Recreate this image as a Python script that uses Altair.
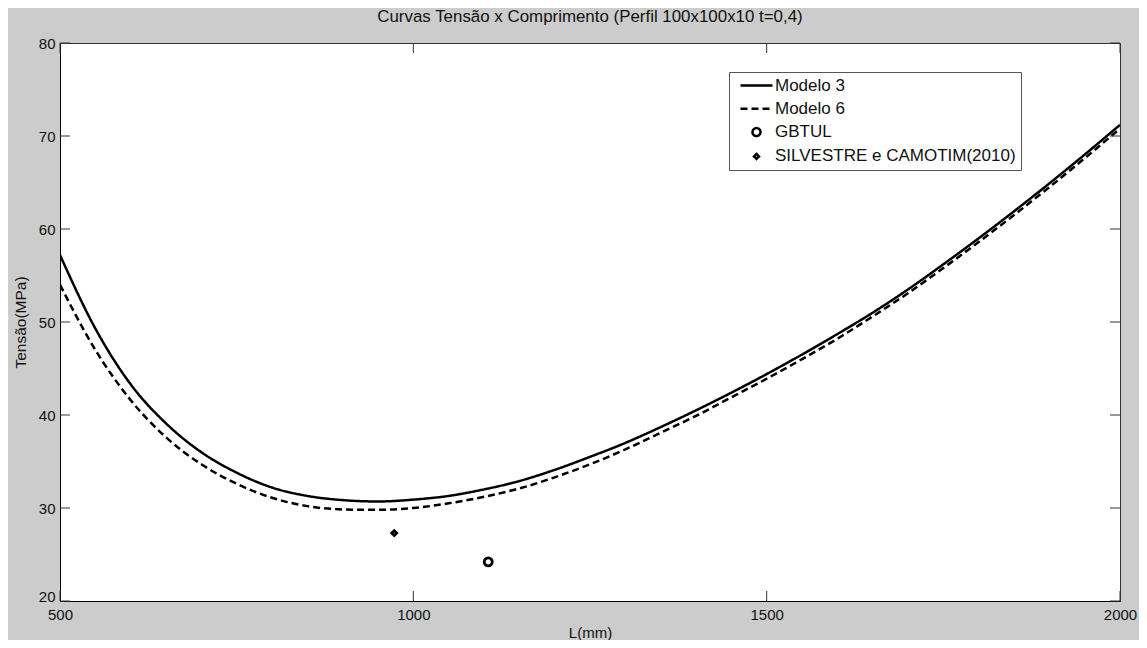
import altair as alt
import pandas as pd

# ---------------- data ----------------
L_MM = [500, 550, 600, 650, 700, 750, 800, 850, 900, 950, 1000, 1050, 1100, 1150,
        1200, 1250, 1300, 1350, 1400, 1450, 1500, 1550, 1600, 1650, 1700, 1750,
        1800, 1850, 1900, 1950, 2000]
MODELO_3 = [57.2, 49.3, 43.3, 39.1, 36.0, 33.8, 32.2, 31.3, 30.85, 30.7, 30.9, 31.3,
            32.0, 32.9, 34.1, 35.5, 37.0, 38.7, 40.5, 42.4, 44.4, 46.5, 48.7, 51.0,
            53.5, 56.2, 59.0, 61.9, 64.9, 68.0, 71.2]
MODELO_6 = [54.0, 47.0, 41.6, 37.6, 34.7, 32.6, 31.1, 30.2, 29.85, 29.8, 30.0, 30.5,
            31.2, 32.1, 33.3, 34.7, 36.3, 38.1, 39.9, 41.9, 43.9, 46.0, 48.2, 50.6,
            53.1, 55.8, 58.6, 61.5, 64.5, 67.6, 70.8]
GBTUL_L = [1106]
GBTUL_S = [24.2]
SILV_L = [973]
SILV_S = [27.3]

SERIES = ["Modelo 3", "Modelo 6", "GBTUL", "SILVESTRE e CAMOTIM(2010)"]
X_TICKS = [500, 1000, 1500, 2000]
Y_TICKS = [20, 30, 40, 50, 60, 70, 80]

TITLE = "Curvas Tensão x Comprimento (Perfil 100x100x10 t=0,4)"
X_TITLE = "L(mm)"
Y_TITLE = "Tensão(MPa)"

# ---------------- tables ----------------
lines_df = pd.concat([
    pd.DataFrame({"L": L_MM, "S": MODELO_3, "serie": SERIES[0]}),
    pd.DataFrame({"L": L_MM, "S": MODELO_6, "serie": SERIES[1]}),
])
points_df = pd.concat([
    pd.DataFrame({"L": GBTUL_L, "S": GBTUL_S, "serie": SERIES[2]}),
    pd.DataFrame({"L": SILV_L, "S": SILV_S, "serie": SERIES[3]}),
])
xt_df = pd.DataFrame({"L": X_TICKS})
yt_df = pd.DataFrame({"S": Y_TICKS})

W, H = 1060, 558
FONT = "Liberation Sans"
TXT = "#111111"

xscale = alt.Scale(domain=[500, 2000], nice=False, zero=False)
yscale = alt.Scale(domain=[20, 80], nice=False, zero=False)

LINE_PATH = "M-4,0H4"
DIAMOND_PATH = "M0,-0.62L0.62,0L0,0.62L-0.62,0Z"

legend_kw = dict(
    title=None, orient="none", legendX=669, legendY=29,
    fillColor="white", strokeColor="#555555", padding=5,
    labelFont=FONT, labelFontSize=17, labelColor=TXT, labelLimit=0,
    symbolStrokeWidth=2.5, symbolSize=64, symbolStrokeColor="black",
    symbolOffset=14, labelOffset=10, rowPadding=5.3,
)

x_axis = alt.Axis(values=X_TICKS, format="d", ticks=False, grid=False, domainColor="black",
                  labelFont=FONT, labelFontSize=15, labelColor=TXT, labelPadding=6,
                  title=X_TITLE, titleFont=FONT, titleFontSize=15, titleColor=TXT,
                  titleFontWeight="normal", titlePadding=3, labelFlush=False)
y_axis = alt.Axis(values=Y_TICKS, format="d", ticks=False, grid=False, domainColor="black",
                  labelFont=FONT, labelFontSize=15, labelColor=TXT, labelPadding=5,
                  labelBaseline={"condition": {"test": "datum.value == 20",
                                               "value": "alphabetic"},
                                 "value": "middle"},
                  title=Y_TITLE, titleFont=FONT, titleFontSize=15.5, titleColor=TXT,
                  titleFontWeight="normal", titlePadding=10, labelFlush=False)

X_ENC = alt.X("L:Q", scale=xscale, axis=x_axis, title=X_TITLE)
Y_ENC = alt.Y("S:Q", scale=yscale, axis=y_axis, title=Y_TITLE)

lines = alt.Chart(lines_df).mark_line(
    color="black", strokeWidth=2.5, interpolate="monotone", clip=True
).encode(
    x=X_ENC,
    y=Y_ENC,
    strokeDash=alt.StrokeDash(
        "serie:N",
        scale=alt.Scale(domain=SERIES, range=[[1, 0], [7, 4], [1, 0], [1, 0]]),
        legend=alt.Legend(**legend_kw),
    ),
    detail="serie:N",
)

points = alt.Chart(points_df).mark_point(
    color="black", filled=False, size=64, strokeWidth=2.8, opacity=1
).encode(
    x=X_ENC,
    y=Y_ENC,
    shape=alt.Shape(
        "serie:N",
        scale=alt.Scale(domain=SERIES, range=[LINE_PATH, LINE_PATH, "circle", DIAMOND_PATH]),
        legend=alt.Legend(**legend_kw),
    ),
)

TICK_C = "#333333"
tick_bottom = alt.Chart(xt_df).mark_rule(color=TICK_C, strokeWidth=1).encode(
    x=X_ENC, y=alt.value(H), y2=alt.value(H - 10))
tick_top = alt.Chart(xt_df).mark_rule(color=TICK_C, strokeWidth=1).encode(
    x=X_ENC, y=alt.value(0), y2=alt.value(10))
tick_left = alt.Chart(yt_df).mark_rule(color=TICK_C, strokeWidth=1).encode(
    y=Y_ENC, x=alt.value(0), x2=alt.value(10))
tick_right = alt.Chart(yt_df).mark_rule(color=TICK_C, strokeWidth=1).encode(
    y=Y_ENC, x=alt.value(W), x2=alt.value(W - 10))

chart = alt.layer(
    lines, points, tick_bottom, tick_top, tick_left, tick_right
).properties(
    width=W, height=H,
    title=alt.TitleParams(TITLE, font=FONT, fontSize=16.9, fontWeight="normal",
                          color=TXT, offset=10, anchor="middle"),
    autosize=alt.AutoSizeParams(type="none"),
    padding={"left": 52, "top": 35, "right": 19, "bottom": 39},
    background="#cccccc",
).configure_view(
    fill="white", stroke="#333333", strokeWidth=1
)

chart.save("out.html", embed_options={"renderer": "svg", "actions": False})
